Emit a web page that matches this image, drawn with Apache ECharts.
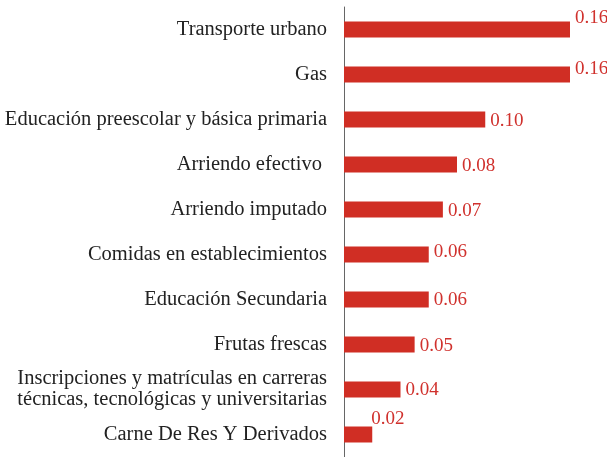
<!DOCTYPE html>
<html>
<head>
<meta charset="utf-8">
<script src="https://cdn.jsdelivr.net/npm/echarts@6/dist/echarts.min.js"></script>
<style>html,body{margin:0;padding:0;background:#fff}#c{width:607px;height:457px}</style>
</head>
<body>
<div id="c"></div>
<script>
var categories = [
  "Transporte urbano",
  "Gas",
  "Educación preescolar y básica primaria",
  "Arriendo efectivo ",
  "Arriendo imputado",
  "Comidas en establecimientos",
  "Educación Secundaria",
  "Frutas frescas",
  "Inscripciones y matrículas en carreras\ntécnicas, tecnológicas y universitarias",
  "Carne De Res Y Derivados"
];
var values = [0.16, 0.16, 0.10, 0.08, 0.07, 0.06, 0.06, 0.05, 0.04, 0.02];
// label nudges [dx, dy] in px (style only)
var labelNudges = [[0,-11],[0,-5],[0,2],[0,2],[0,2],[0,-2],[0,1],[0,2],[0,1],[-6,-15]];

var chart = echarts.init(document.getElementById('c'), null, {renderer:'canvas'});
var FONT = '"Liberation Serif", "DejaVu Serif", serif';
var data = values.map(function(v, i){
  return { value: v, label: { offset: labelNudges[i] } };
});
chart.setOption({
  animation: false,
  grid: { left: 344, right: 37, top: 7, bottom: 0, containLabel: false },
  xAxis: { type: 'value', min: 0, max: 0.16, show: false },
  yAxis: {
    type: 'category', data: categories, inverse: true,
    axisLine: { show: true, lineStyle: { color: '#666', width: 1 } },
    axisTick: { show: false },
    axisLabel: { margin: 17, color: '#222', fontFamily: FONT, fontSize: 20.5, lineHeight: 21 }
  },
  series: [{
    type: 'bar', data: data, barWidth: 16,
    itemStyle: { color: '#d02e24' },
    label: {
      show: true, position: 'right', distance: 5, color: '#d0312d',
      fontFamily: FONT, fontSize: 19,
      formatter: function(p){ return p.value.toFixed(2); }
    }
  }]
});
</script>
</body>
</html>
